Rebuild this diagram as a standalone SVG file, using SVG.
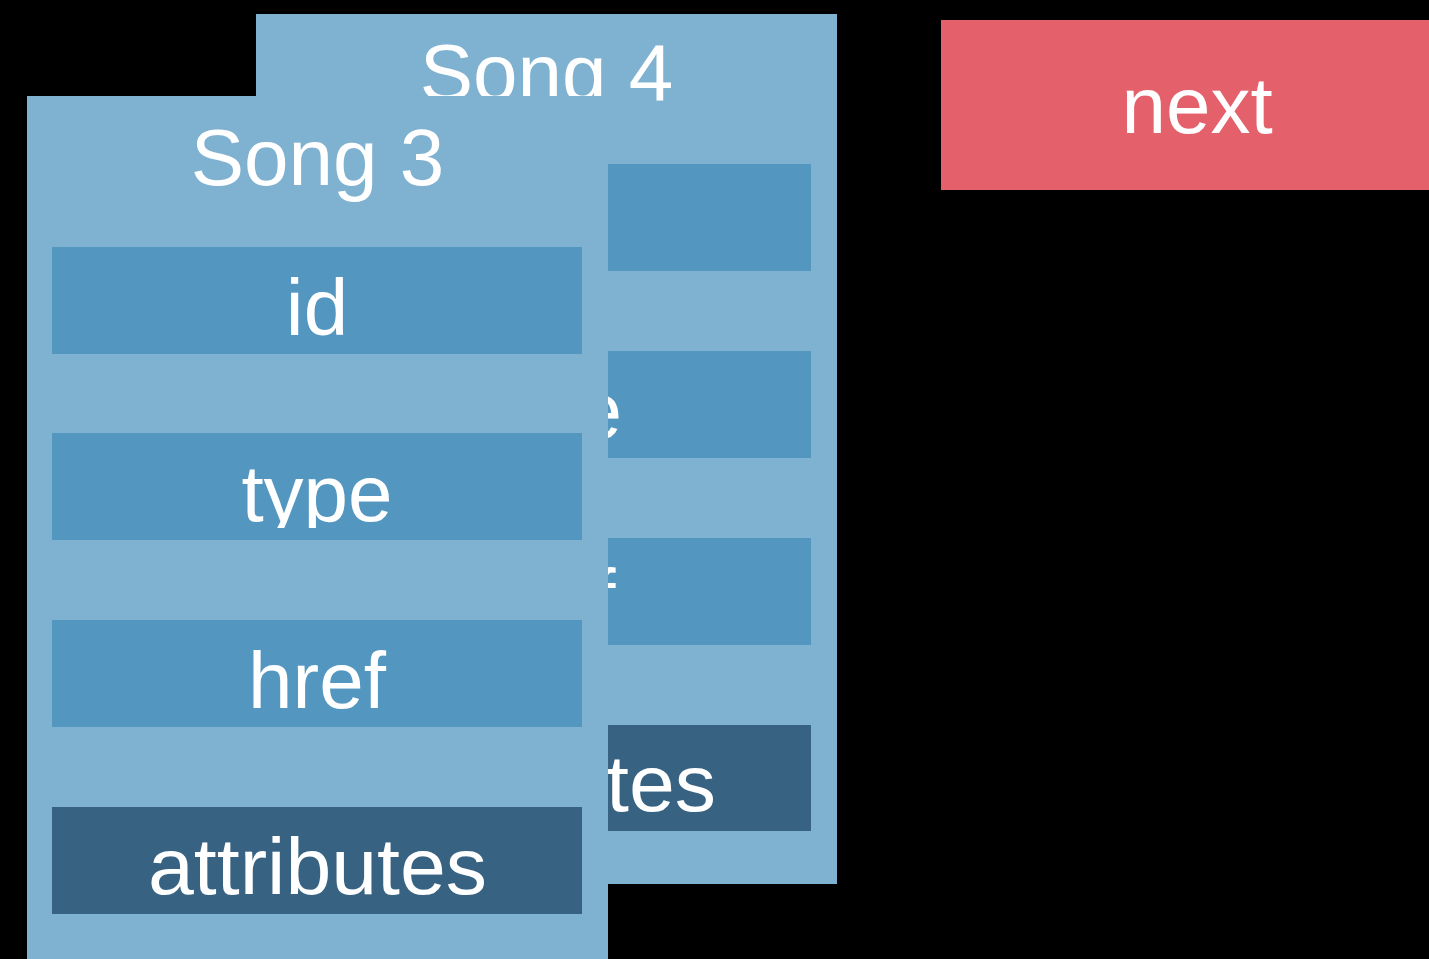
<svg xmlns="http://www.w3.org/2000/svg" width="1429" height="959" viewBox="0 0 1429 959">
<defs>
<style>
.card{fill:#7fb1d1}
.fld{fill:#5397c1}
.dark{fill:#376282}
.next{fill:#e4606b}
text{font-family:"Liberation Sans",Arial,sans-serif;font-size:80px;fill:#ffffff;text-anchor:middle}
</style>
<clipPath id="clipType3"><rect x="52" y="433" width="530" height="95"/></clipPath>
<clipPath id="clipType4"><rect x="282" y="351" width="529" height="95"/></clipPath>
</defs>
<rect width="1429" height="959" fill="#000000"/>
<g id="song4">
<rect class="card" x="256" y="14" width="581" height="870"/>
<text x="546.5" y="100">Song 4</text>
<g id="song4-id"><rect class="fld" x="282" y="164" width="529" height="107"/><text x="546.5" y="252">id</text></g>
<g id="song4-type"><rect class="fld" x="282" y="351" width="529" height="107"/><text x="546.5" y="438" clip-path="url(#clipType4)">type</text></g>
<g id="song4-href"><rect class="fld" x="282" y="538" width="529" height="107"/><text x="546.5" y="625">href</text></g>
<g id="song4-attributes"><rect class="dark" x="282" y="725" width="529" height="106"/><text x="546.5" y="811" textLength="339" lengthAdjust="spacingAndGlyphs">attributes</text></g>
</g>
<g id="song3">
<rect class="card" x="27" y="96" width="581" height="870"/>
<text x="317.5" y="185">Song 3</text>
<g id="song3-id"><rect class="fld" x="52" y="247" width="530" height="107"/><text x="317" y="335">id</text></g>
<g id="song3-type"><rect class="fld" x="52" y="433" width="530" height="107"/><text x="317" y="521" clip-path="url(#clipType3)">type</text></g>
<g id="song3-href"><rect class="fld" x="52" y="620" width="530" height="107"/><text x="317" y="708">href</text></g>
<g id="song3-attributes"><rect class="dark" x="52" y="807" width="530" height="107"/><text x="317.5" y="894" textLength="339" lengthAdjust="spacingAndGlyphs">attributes</text></g>
</g>
<g id="next">
<rect class="next" x="941" y="20" width="512" height="170"/>
<text x="1197" y="133">next</text>
</g>
<g id="connectors"/>
</svg>
